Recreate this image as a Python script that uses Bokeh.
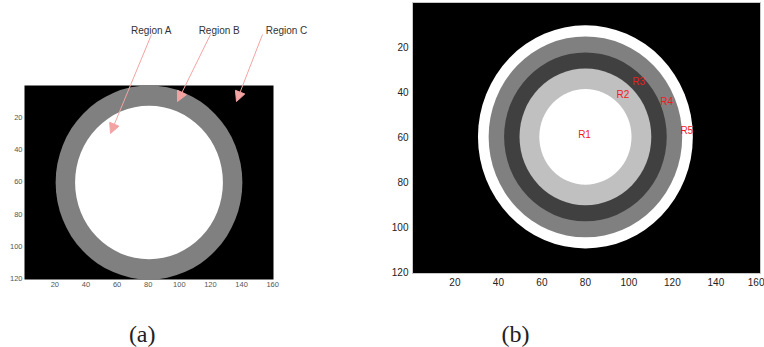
from bokeh.plotting import figure
from bokeh.models import Range1d, FixedTicker, Label, Arrow, NormalHead
from bokeh.layouts import row
from bokeh.core.properties import value
from bokeh.embed import file_html
from bokeh.resources import INLINE

# ---------------- data ----------------
# panel (a): two-region disc on a black background (centre, radii, grey levels)
a_center = (80.5, 60.5)
a_radii = [60.0, 47.5]
a_colors = ["#808080", "#ffffff"]
a_labels = ["Region A", "Region B", "Region C"]

# panel (b): five concentric regions
b_center = (80.0, 60.0)
b_radii = [49.4, 44.5, 37.4, 30.3, 21.2]
b_colors = ["#ffffff", "#808080", "#404040", "#c0c0c0", "#ffffff"]
b_names = ["R1", "R2", "R3", "R4", "R5"]
b_name_x = [79.6, 97.2, 104.5, 117.4, 126.6]
b_name_y = [58.9, 41.2, 35.7, 44.4, 57.0]

x_ticks = [20, 40, 60, 80, 100, 120, 140, 160]
y_ticks = [20, 40, 60, 80, 100, 120]
x_extent = (0.5, 160.5)
y_extent = (0.5, 120.5)

# ---------------- layout constants (page pixels) ----------------
ORIGIN_X, ORIGIN_Y = 0, 0
A_X0, A_W, A_H = ORIGIN_X, 372, 347
A_FL, A_FR, A_FT, A_FB = 24, 273, 85, 279
B_X0, B_W, B_H = ORIGIN_X + A_W, 392, 347
B_FL, B_FR, B_FT, B_FB = 412, 760, 2, 273


class Mapper:
    """maps page pixels to data units for an image placed at (fl..fr, ft..fb)"""

    def __init__(self, x0, w, h, fl, fr, ft, fb):
        self.sx = (fr - fl) / (x_extent[1] - x_extent[0])
        self.sy = (fb - ft) / (y_extent[1] - y_extent[0])
        self.fl, self.ft = fl, ft
        self.xr = (self.x(x0), self.x(x0 + w))
        self.yr = (self.y(ORIGIN_Y + h), self.y(ORIGIN_Y))

    def x(self, px):
        return x_extent[0] + (px - self.fl) / self.sx

    def y(self, py):
        return y_extent[0] + (py - self.ft) / self.sy


def make_fig(m, w, h, font_size, label_color, standoff, outline):
    p = figure(width=w, height=h, output_backend="svg", toolbar_location=None,
               x_range=Range1d(*m.xr), y_range=Range1d(*m.yr), min_border=0)
    p.background_fill_color = "white"
    p.border_fill_color = "white"
    p.outline_line_color = None
    p.grid.visible = False
    # black image background over the pixel extent
    p.quad(left=[x_extent[0]], right=[x_extent[1]], top=[y_extent[0]], bottom=[y_extent[1]],
           fill_color="black", line_color=outline, line_width=1)
    p.xaxis.fixed_location = y_extent[1]
    p.yaxis.fixed_location = x_extent[0]
    for ax, ticks in ((p.xaxis, x_ticks), (p.yaxis, y_ticks)):
        ax.ticker = FixedTicker(ticks=ticks)
        ax.major_tick_in = 0
        ax.major_tick_out = 0
        ax.minor_tick_in = 0
        ax.minor_tick_out = 0
        ax.axis_line_color = None
        ax.major_label_standoff = standoff
        ax.major_label_text_font = "Liberation Sans"
        ax.major_label_text_font_size = font_size
        ax.major_label_text_color = label_color
    return p


# ---------------- panel (a) ----------------
ma = Mapper(A_X0, A_W, A_H, A_FL, A_FR, A_FT, A_FB)
pa = make_fig(ma, A_W, A_H, "7.5px", "#555555", 2, None)
pa.ellipse(x=[a_center[0]] * len(a_radii), y=[a_center[1]] * len(a_radii),
           width=[2 * r for r in a_radii], height=[2 * r for r in a_radii],
           fill_color=a_colors, line_color=None)

text_px = [151, 218.7, 286]
arrow_start = [(151, 34), (210, 34), (262, 34)]
arrow_end = [(110, 133), (177, 101), (236, 101)]
for name, tx, s, e in zip(a_labels, text_px, arrow_start, arrow_end):
    pa.add_layout(Label(x=ma.x(tx), y=ma.y(30), text=name, text_align="center",
                        text_baseline="middle", text_font="Liberation Sans",
                        text_font_size="10px", text_color="#333333"))
    pa.add_layout(Arrow(x_start=ma.x(s[0]), y_start=ma.y(s[1]),
                        x_end=ma.x(e[0]), y_end=ma.y(e[1]),
                        line_color="#f4a3a3", line_width=1,
                        end=NormalHead(size=10, fill_color="#f4a3a3", line_color="#f4a3a3")))

pa.add_layout(Label(x=ma.x(141.7), y=ma.y(333), text="(a)", text_align="center",
                    text_baseline="middle", text_font="Liberation Serif",
                    text_font_size="24px", text_color="#222222"))

# ---------------- panel (b) ----------------
mb = Mapper(B_X0, B_W, B_H, B_FL, B_FR, B_FT, B_FB)
pb = make_fig(mb, B_W, B_H, "10px", "#222222", 4, "#c8c8c8")
pb.ellipse(x=[b_center[0]] * len(b_radii), y=[b_center[1]] * len(b_radii),
           width=[2 * r for r in b_radii], height=[2 * r for r in b_radii],
           fill_color=b_colors, line_color=None)
pb.text(x=b_name_x, y=b_name_y, text=b_names, text_align="center", text_baseline="middle",
        text_font=value("Liberation Sans"), text_font_size="10px", text_color="#ee1c1c")
pb.add_layout(Label(x=mb.x(515), y=mb.y(333), text="(b)", text_align="center",
                    text_baseline="middle", text_font="Liberation Serif",
                    text_font_size="24px", text_color="#222222"))

layout = row(pa, pb, spacing=0)
open("out.html", "w").write(file_html(layout, INLINE))
